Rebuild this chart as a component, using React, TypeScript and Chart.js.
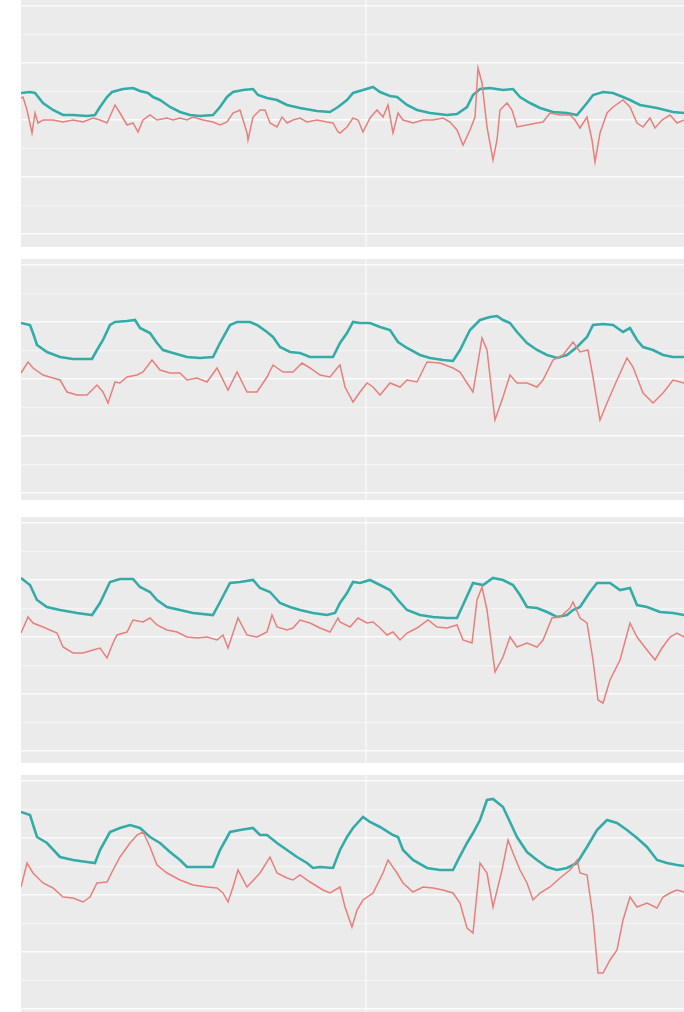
import React, { useEffect, useRef } from "react";
import { Chart, registerables } from "chart.js";

Chart.register(...registerables);

// x: time index (0..663), y: signal level (gridlines every 28.5 units)
const X_GRID = [345];
const Y_GRID = [0, 28.5, 57, 85.5, 114, 142.5, 171, 199.5, 228];
const Y_TOP = 234;

const P1_TEAL = [[0,141],[9,142],[14,141],[22,131],[32,124],[42,119],[52,119],[66,118],[74,119],[79,127],[86,137],[91,142],[102,145],[112,146],[119,143],[127,141],[132,137],[139,134],[149,127],[159,122],[169,119],[179,118],[192,119],[199,127],[206,137],[212,142],[222,144],[232,145],[237,139],[246,136],[256,134],[266,129],[279,126],[296,123],[309,122],[317,127],[326,134],[332,141],[342,144],[352,147],[359,142],[369,138],[376,137],[386,129],[396,124],[409,121],[426,119],[436,120],[446,127],[452,139],[459,145],[469,146],[482,144],[492,145],[499,137],[509,131],[519,126],[532,122],[546,121],[556,119],[566,131],[572,139],[582,142],[592,141],[602,137],[609,134],[619,129],[636,126],[652,122],[663,121]];
const P1_RED = [[0,136],[2,137],[6,124],[11,101],[14,121],[17,111],[22,114],[32,114],[42,112],[52,114],[62,112],[72,116],[79,114],[86,111],[94,129],[99,121],[106,109],[112,111],[117,102],[122,114],[129,119],[136,114],[146,116],[152,114],[159,116],[166,114],[172,117],[182,114],[192,112],[199,109],[206,112],[212,121],[219,124],[226,101],[227,94],[232,117],[239,124],[244,124],[249,111],[256,107],[261,117],[266,111],[272,114],[279,116],[286,112],[296,114],[306,112],[312,111],[317,102],[319,101],[326,107],[332,116],[337,114],[342,102],[349,116],[356,124],[362,117],[367,129],[372,101],[377,121],[382,114],[392,111],[402,114],[412,114],[422,116],[429,112],[436,104],[442,89],[449,104],[454,117],[457,166],[461,151],[466,107],[472,74],[476,94],[479,124],[486,131],[491,124],[496,107],[506,109],[516,111],[522,112],[529,121],[539,119],[549,119],[554,114],[559,106],[566,117],[571,94],[574,72],[579,101],[586,121],[592,127],[602,134],[609,127],[616,111],[622,107],[629,116],[634,106],[641,114],[649,119],[656,111],[663,114]];

const P2_TEAL = [[0,170],[9,168],[12,160],[16,148],[26,141],[39,136],[52,134],[71,134],[76,143],[82,153],[89,168],[94,171],[106,172],[114,173],[119,165],[129,160],[136,150],[142,143],[152,140],[166,136],[179,135],[192,136],[199,150],[209,168],[216,171],[229,171],[236,168],[246,161],[252,156],[259,146],[269,141],[279,140],[289,136],[299,136],[312,136],[319,150],[326,160],[332,171],[339,170],[349,170],[359,166],[369,163],[377,151],[386,145],[399,138],[409,135],[422,133],[432,132],[439,143],[449,163],[459,173],[469,176],[476,177],[482,173],[489,170],[496,161],[506,150],[516,143],[526,138],[536,135],[546,138],[556,146],[566,156],[572,168],[582,169],[592,168],[602,161],[609,165],[616,153],[622,146],[632,143],[642,138],[652,136],[663,136]];
const P2_RED = [[0,120],[7,131],[12,125],[22,118],[32,115],[39,113],[46,101],[56,98],[66,98],[76,108],[82,101],[87,90],[94,111],[99,110],[106,116],[116,118],[122,121],[131,133],[139,123],[149,120],[159,120],[166,113],[176,115],[186,111],[196,125],[207,103],[216,121],[226,101],[236,101],[246,116],[252,128],[262,121],[272,121],[281,130],[289,125],[299,118],[309,116],[317,126],[319,128],[324,106],[332,91],[339,101],[346,110],[352,106],[359,98],[369,110],[379,106],[386,113],[396,111],[406,131],[419,130],[432,125],[439,121],[446,110],[452,101],[461,155],[466,143],[474,73],[482,96],[489,118],[496,110],[506,110],[516,106],[522,113],[532,133],[542,138],[552,151],[559,141],[567,143],[572,116],[579,73],[586,90],[596,113],[606,135],[612,126],[622,100],[632,90],[642,100],[652,113],[663,110]];

const P3_TEAL = [[0,173],[9,166],[16,151],[26,144],[39,141],[56,138],[71,136],[79,148],[89,169],[99,172],[112,172],[119,164],[129,159],[136,151],[146,144],[159,141],[172,138],[192,136],[199,149],[209,168],[219,169],[232,171],[239,163],[249,159],[259,148],[269,144],[279,141],[292,138],[306,136],[314,138],[319,148],[326,158],[332,169],[339,168],[349,171],[359,166],[369,161],[377,151],[386,141],[399,136],[412,134],[426,133],[436,133],[442,146],[452,168],[462,166],[472,173],[482,171],[492,166],[499,156],[506,144],[516,143],[526,139],[536,134],[546,136],[552,141],[559,144],[569,159],[576,168],[589,168],[599,161],[609,163],[616,146],[626,144],[639,139],[652,138],[663,136]];
const P3_RED = [[0,118],[7,134],[12,128],[22,124],[36,118],[42,104],[52,98],[62,98],[72,101],[79,103],[86,93],[92,108],[96,116],[106,119],[112,131],[122,129],[129,133],[136,126],[146,121],[156,119],[166,114],[176,113],[186,114],[196,111],[202,116],[207,103],[212,118],[217,133],[226,116],[236,114],[246,119],[251,136],[256,124],[266,121],[272,123],[279,131],[289,128],[299,123],[309,119],[317,133],[319,129],[329,124],[337,133],[346,128],[352,129],[359,123],[366,116],[372,119],[379,111],[386,118],[396,123],[407,131],[416,124],[426,123],[436,126],[442,111],[451,108],[456,151],[461,164],[466,141],[474,79],[482,94],[489,114],[496,104],[506,108],[516,104],[522,111],[531,133],[539,134],[549,143],[552,149],[559,133],[566,128],[572,91],[577,51],[582,48],[589,71],[599,91],[609,128],[616,114],[626,101],[634,91],[641,103],[649,114],[656,118],[663,114]];

const P4_TEAL = [[0,197],[9,194],[16,172],[26,166],[39,152],[52,149],[66,147],[74,146],[79,159],[89,177],[99,181],[109,184],[119,181],[129,172],[139,166],[149,157],[159,149],[166,142],[179,142],[192,142],[199,159],[209,177],[219,179],[232,181],[239,174],[246,174],[256,166],[266,159],[276,152],[286,146],[292,141],[299,142],[312,141],[319,159],[326,172],[332,181],[342,192],[349,187],[359,182],[372,174],[377,172],[382,159],[392,149],[406,141],[419,139],[432,139],[437,149],[446,166],[452,176],[459,189],[466,209],[472,210],[482,202],[489,187],[496,172],[506,157],[516,149],[526,142],[536,139],[546,141],[556,146],[566,162],[576,179],[586,189],[596,186],[606,179],[616,171],[626,162],[636,149],[646,146],[656,144],[663,143]];
const P4_RED = [[0,122],[6,146],[12,136],[22,126],[32,121],[42,112],[52,111],[62,107],[69,112],[76,126],[86,127],[92,139],[99,152],[109,166],[116,174],[122,177],[129,162],[136,144],[146,136],[159,129],[172,124],[186,122],[196,121],[202,116],[207,107],[212,122],[217,139],[226,122],[239,136],[249,152],[256,136],[266,131],[272,129],[279,134],[289,127],[302,119],[309,116],[319,122],[324,102],[331,82],[336,99],[342,109],[352,116],[362,136],[367,149],[376,136],[382,126],[392,117],[402,122],[412,121],[422,119],[432,116],[439,106],[446,81],[452,76],[459,146],[466,136],[472,102],[481,139],[487,169],[492,156],[499,139],[506,126],[512,109],[519,116],[529,122],[539,131],[549,139],[556,149],[559,136],[566,134],[572,92],[577,36],[582,36],[589,49],[596,59],[602,89],[609,112],[616,102],[626,106],[636,101],[642,112],[649,116],[656,119],[663,117]];

const TEAL_COLOR = "#33ACA8";
const RED_COLOR = "#E97F7B";

const PANELS = [
  { top: 0, height: 247, teal: P1_TEAL, red: P1_RED },
  { top: 259, height: 241, teal: P2_TEAL, red: P2_RED },
  { top: 517, height: 246, teal: P3_TEAL, red: P3_RED },
  { top: 775, height: 237, teal: P4_TEAL, red: P4_RED },
];

const toPts = (arr: number[][]) => arr.map(([x, y]) => ({ x, y }));

function Panel({ top, height, teal, red }: any) {
  const ref = useRef<HTMLCanvasElement | null>(null);
  useEffect(() => {
    if (!ref.current) return;
    const chart = new Chart(ref.current, {
      type: "line",
      data: {
        datasets: [
          {
            data: toPts(red),
            borderColor: RED_COLOR,
            borderWidth: 1.5,
            pointRadius: 0,
            tension: 0,
            fill: false,
          },
          {
            data: toPts(teal),
            borderColor: TEAL_COLOR,
            borderWidth: 2.6,
            pointRadius: 0,
            tension: 0,
            fill: false,
          },
        ],
      },
      options: {
        animation: false,
        responsive: false,
        events: [],
        layout: { padding: 0 },
        plugins: { legend: { display: false }, tooltip: { enabled: false } },
        scales: {
          x: {
            type: "linear",
            min: 0,
            max: 663,
            afterBuildTicks: (s: any) => {
              s.ticks = X_GRID.map((v) => ({ value: v }));
            },
            ticks: { display: false },
            grid: { color: "rgba(255,255,255,0.45)", lineWidth: 2, drawTicks: false },
            border: { display: false },
          },
          y: {
            type: "linear",
            min: Y_TOP - height,
            max: Y_TOP,
            afterBuildTicks: (s: any) => {
              s.ticks = Y_GRID.map((v) => ({ value: v }));
            },
            ticks: { display: false },
            grid: {
              drawTicks: false,
              color: (c: any) =>
                c.tick && c.tick.value % 57 === 0 ? "rgba(255,255,255,0.8)" : "rgba(255,255,255,0.45)",
              lineWidth: (c: any) => (c.tick && c.tick.value % 57 === 0 ? 1.5 : 1.2),
            },
            border: { display: false },
          },
        },
      },
    } as any);
    return () => chart.destroy();
  }, []);
  return (
    <canvas
      ref={ref}
      width={663}
      height={height}
      style={{ position: "absolute", left: 21, top, background: "#EBEBEB", display: "block" }}
    />
  );
}

export default function App() {
  return (
    <div style={{ position: "absolute", left: 0, top: 0, width: 684, height: 1012, background: "#FFFFFF", overflow: "hidden" }}>
      {PANELS.map((p, i) => (
        <Panel key={i} {...p} />
      ))}
    </div>
  );
}
